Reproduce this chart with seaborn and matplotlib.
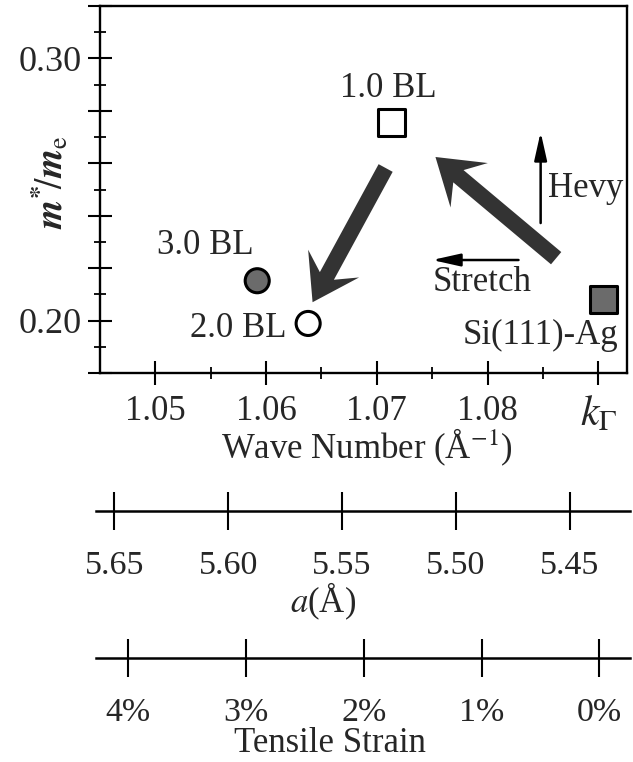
import numpy as np
import pandas as pd
import matplotlib
matplotlib.use("Agg")
import matplotlib.pyplot as plt
import seaborn as sns
from matplotlib.patches import FancyArrow
from matplotlib.transforms import IdentityTransform

# ---------------- data ----------------
samples = ["1.0 BL", "2.0 BL", "3.0 BL", "Si(111)-Ag"]
wave_number = [1.0713, 1.0638, 1.0592, 1.0905]
mass_ratio = [0.2757, 0.1989, 0.2152, 0.2080]
marker_shapes = ["s", "o", "o", "s"]
fill_colors = ["white", "white", "#6b6b6b", "#6b6b6b"]

x_major = [1.05, 1.06, 1.07, 1.08, 1.09]
x_minor = [1.055, 1.065, 1.075, 1.085]
x_labels = ["1.05", "1.06", "1.07", "1.08", r"$k_\Gamma$"]
y_major = [0.18, 0.20, 0.22, 0.24, 0.26, 0.28, 0.30, 0.32]
y_minor = [0.19, 0.21, 0.23, 0.25, 0.27, 0.29, 0.31]
y_labeled = [0.20, 0.30]

lattice_ticks = [5.65, 5.60, 5.55, 5.50, 5.45]
lattice_labels = ["5.65", "5.60", "5.55", "5.50", "5.45"]
strain_ticks = [4, 3, 2, 1, 0]
strain_labels = ["4%", "3%", "2%", "1%", "0%"]

df = pd.DataFrame({"sample": samples, "k": wave_number, "m": mass_ratio,
                   "marker": marker_shapes, "fill": fill_colors})

# ---------------- style ----------------
sns.set_theme(style="white")
plt.rcParams["font.family"] = ["Liberation Serif", "DejaVu Serif"]
plt.rcParams["mathtext.fontset"] = "stix"
plt.rcParams["axes.linewidth"] = 1.7
plt.rcParams["axes.edgecolor"] = "black"

W, H = 633, 762
fig = plt.figure(figsize=(W / 100, H / 100), dpi=100)
fig.patch.set_facecolor("white")

def fx(px):
    return px / W

def fy(py):
    return 1 - py / H

# main axes: x 100..627 px, y 6..373 px
ax = fig.add_axes([fx(100), fy(373), fx(627) - fx(100), fy(6) - fy(373)])
ax.set_facecolor("white")
ax.set_xlim(1.045, 1.0926)
ax.set_ylim(0.18, 0.32)

for shape, size in (("o", 300), ("s", 380)):
    sub = df[df["marker"] == shape]
    sns.scatterplot(data=sub, x="k", y="m", hue="sample",
                    palette=dict(zip(sub["sample"], sub["fill"])),
                    marker=shape, s=size, edgecolor="black", linewidth=2.2,
                    legend=False, ax=ax, zorder=5, clip_on=False)

ax.set_xticks(x_major)
ax.set_xticklabels(x_labels, fontsize=25)
ax.get_xticklabels()[-1].set_fontsize(30)
ax.set_xticks(x_minor, minor=True)
ax.set_yticks(y_major)
ax.set_yticklabels([f"{v:.2f}" if v in y_labeled else "" for v in y_major], fontsize=26)
ax.set_yticks(y_minor, minor=True)
ax.tick_params(which="major", direction="inout", length=17, width=1.5, color="black")
ax.tick_params(which="minor", direction="inout", length=8, width=1.3, color="black")
ax.tick_params(axis="x", which="major", pad=7)
ax.tick_params(axis="y", which="major", pad=5)
ax.tick_params(left=True, bottom=True, which="both")

ax.set_xlabel("Wave Number (Å$^{-1}$)", fontsize=25)
ax.xaxis.set_label_coords(0.507, -0.202)
ax.xaxis.label.set_va("center")
ax.set_ylabel(r"$\boldsymbol{m}^{\mathbf{*}}\!/\boldsymbol{m}_{\mathrm{e}}$", fontsize=27)
ax.yaxis.set_label_coords(-0.095, 0.52)
ax.yaxis.label.set_va("center")

# point labels
ax.text(1.0710, 0.2887, "1.0 BL", fontsize=25, ha="center", va="center")
ax.text(1.0545, 0.2288, "3.0 BL", fontsize=25, ha="center", va="center")
ax.text(1.0575, 0.1971, "2.0 BL", fontsize=25, ha="center", va="center")
ax.text(1.0848, 0.1944, "Si(111)-Ag", fontsize=25, ha="center", va="center")
ax.text(1.0855, 0.2505, "Hevy", fontsize=25, ha="left", va="center")
ax.text(1.0750, 0.2147, "Stretch", fontsize=25, ha="left", va="center")

# thin arrows
thin = dict(arrowstyle="-|>,head_length=1.7,head_width=0.38", lw=1.8,
            color="black", mutation_scale=10, shrinkA=0, shrinkB=0)
ax.annotate("", xy=(1.0848, 0.2719), xytext=(1.0848, 0.2372), arrowprops=thin)
ax.annotate("", xy=(1.0750, 0.2231), xytext=(1.0828, 0.2231), arrowprops=thin)

# thick arrows (drawn in pixel space to keep their shape)
def big_arrow(start, end):
    p0 = ax.transData.transform(start)
    p1 = ax.transData.transform(end)
    d = p1 - p0
    arr = FancyArrow(p0[0], p0[1], d[0], d[1], width=16, head_width=58,
                     head_length=44, overhang=0.32, length_includes_head=True,
                     transform=IdentityTransform(), color="#333333", lw=0,
                     zorder=4)
    fig.add_artist(arr)

big_arrow((1.0862, 0.2238), (1.0753, 0.2624))
big_arrow((1.0708, 0.2582), (1.0642, 0.2070))

# secondary scales
def scale_axis(ypx, lim, ticks, labels, pad):
    a = fig.add_axes([fx(96), fy(ypx), fx(630) - fx(96), 0.001])
    a.set_facecolor("none")
    for s in ("top", "left", "right"):
        a.spines[s].set_visible(False)
    a.spines["bottom"].set_linewidth(1.8)
    a.set_xlim(*lim)
    a.set_yticks([])
    a.set_xticks(ticks)
    a.set_xticklabels(labels, fontsize=24.5)
    a.tick_params(axis="x", direction="inout", length=27, width=1.5,
                  color="black", pad=pad, bottom=True)
    return a

ax_a = scale_axis(511, (5.6581, 5.4236), lattice_ticks, lattice_labels, 15)
ax_a.set_xlabel("$a$(Å)", fontsize=25)
ax_s = scale_axis(658, (4.2746, -0.2593), strain_ticks, strain_labels, 15)
ax_s.set_xlabel("Tensile Strain", fontsize=25)

fig.canvas.draw()

def place_label(a, xpx, ypx):
    inv = a.transAxes.inverted()
    xa, ya = inv.transform((xpx, H - ypx))
    a.xaxis.set_label_coords(xa, ya)
    a.xaxis.label.set_va("center")

place_label(ax_a, 323, 601)
place_label(ax_s, 330, 743)

fig.savefig("out.png", dpi=100, facecolor="white")
